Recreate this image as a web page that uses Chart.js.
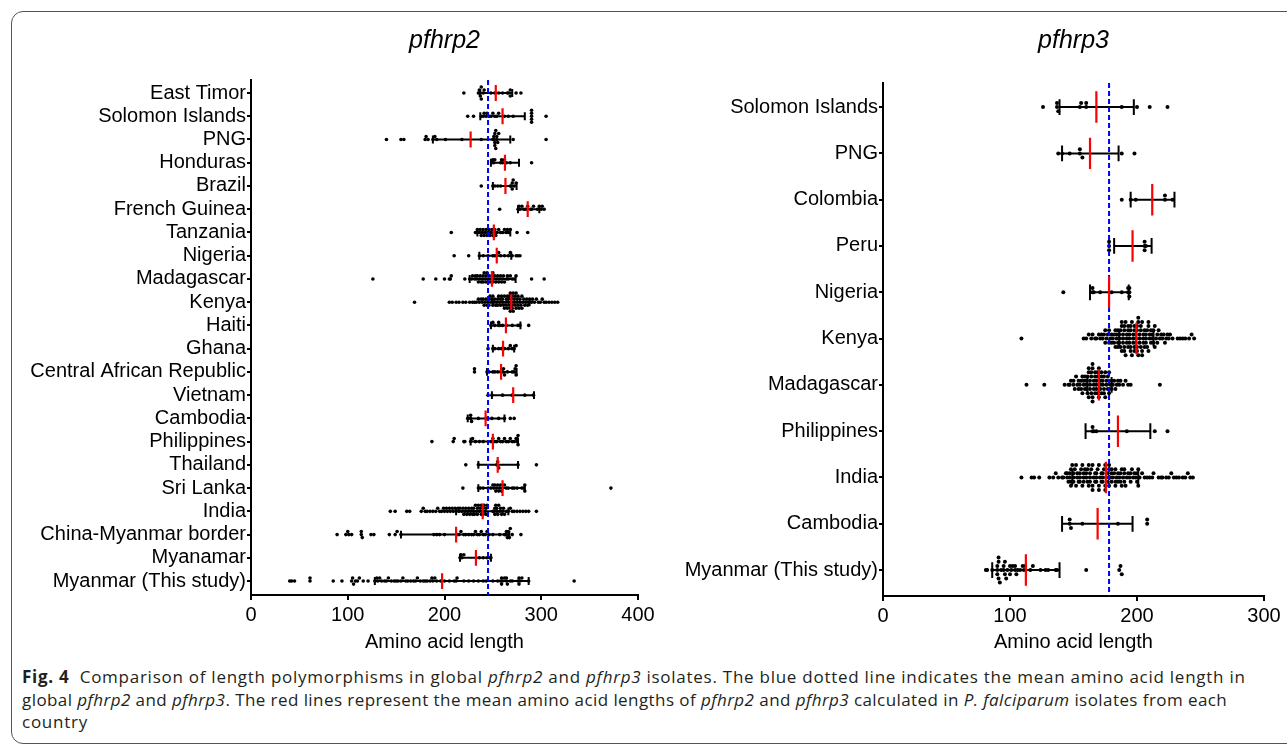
<!DOCTYPE html>
<html>
<head>
<meta charset="utf-8">
<title>pfhrp2 / pfhrp3 length polymorphisms</title>
<script src="https://cdn.jsdelivr.net/npm/chart.js@4.4.1/dist/chart.umd.min.js"></script>
<style>
  html, body { margin: 0; padding: 0; background: #fff; width: 1287px; height: 745px; overflow: hidden; }
  .frame { position: absolute; left: 11px; top: 11px; width: 1300px; height: 731px; border: 1.5px solid #555; border-radius: 12px; }
  canvas { position: absolute; top: 0; }
  #hrp2Chart { left: 0; }
  #hrp3Chart { left: 660px; }
  .caption { position: absolute; left: 22px; top: 666px; font-family: "Open Sans", "Noto Sans", sans-serif; font-size: 17px; letter-spacing: 0.74px; line-height: 22.5px; color: #231f20; white-space: nowrap; }
  .caption b { margin-right: 5px; }
  .caption .l2 { letter-spacing: 0.43px; }
</style>
</head>
<body>
<div class="frame"></div>
<canvas id="hrp2Chart" width="660" height="665"></canvas>
<canvas id="hrp3Chart" width="627" height="665"></canvas>
<div class="caption">
  <b>Fig. 4</b> Comparison of length polymorphisms in global <i>pfhrp2</i> and <i>pfhrp3</i> isolates. The blue dotted line indicates the mean amino acid length in<br>
  <span class="l2">global <i>pfhrp2</i> and <i>pfhrp3</i>. The red lines represent the mean amino acid lengths of <i>pfhrp2</i> and <i>pfhrp3</i> calculated in <i>P. falciparum</i> isolates from each</span><br>
  country
</div>
<script>
// ---------- pfhrp2 (left panel), rows top -> bottom ----------
const hrp2Countries = ["East Timor", "Solomon Islands", "PNG", "Honduras", "Brazil", "French Guinea",
  "Tanzania", "Nigeria", "Madagascar", "Kenya", "Haiti", "Ghana", "Central African Republic", "Vietnam",
  "Cambodia", "Philippines", "Thailand", "Sri Lanka", "India", "China-Myanmar border", "Myanamar",
  "Myanmar (This study)"];
const hrp2Means = [253, 260, 227, 262.5, 263, 286, 251, 254, 249, 269, 263.5, 260.5, 258.5, 271,
  242.5, 250, 255, 260, 239.5, 212, 232.5, 197.5];
const hrp2Low = [237, 237, 188, 248, 250, 276, 234, 236, 226, 250, 248, 250, 244, 249, 224, 227, 235, 235, 212, 155, 216, 128];
const hrp2High = [270, 283, 268, 277, 274.5, 298, 268, 269, 273.5, 288, 278.5, 272, 274.5, 292.5, 262, 276, 276, 283, 266, 267, 248, 287];
const hrp2GlobalMean = 245;
const hrp2Ticks = [0, 100, 200, 300, 400];
const hrp2Points = [
  [220, 235, 236, 236, 237, 238, 238, 240, 241, 248, 252, 256, 260, 265, 266, 268, 268, 274, 279],
  [224, 230, 238, 240, 241, 243, 244, 246, 248, 250, 252, 254, 256, 262, 266, 271, 290, 290, 290, 290, 290, 305],
  [140, 155, 158, 180, 181, 183, 188, 190, 192, 201, 218, 238, 250, 251, 251, 252, 252, 252, 253, 253, 254, 254, 255, 256, 271, 305],
  [249, 250, 251, 252, 258, 259, 260, 262, 264, 268, 290],
  [238, 250, 252, 255, 258, 268, 269, 270, 270, 271, 272, 274],
  [257, 276, 277, 278, 280, 282, 284, 286, 289, 290, 292, 296, 298, 300, 301, 303],
  [207, 232, 233, 234, 236, 237, 238, 239, 240, 241, 242, 243, 244, 245, 246, 247, 248, 249, 250, 251, 252,
   253, 254, 256, 258, 260, 262, 264, 265, 266, 268, 275, 286],
  [210, 225, 236, 240, 245, 250, 252, 254, 256, 258, 262, 266, 268, 270, 274, 276, 278],
  [126, 178, 191, 200, 205, 206, 207, 221, 226, 228, 229, 231, 232, 233, 234, 235, 236, 237, 238, 239, 240, 240,
   241, 242, 243, 243, 244, 245, 246, 247, 248, 249, 250, 250, 251, 252, 253, 254, 255, 256, 257, 258, 259, 260,
   261, 262, 264, 265, 266, 268, 270, 272, 274, 290, 303],
  [169, 205, 208, 212, 215, 219, 222, 226, 229, 231, 233, 235, 236, 238, 239, 240, 241, 242, 243, 244, 245, 246,
   246, 247, 248, 249, 250, 250, 251, 252, 253, 254, 255, 255, 256, 257, 258, 258, 259, 260, 260, 261, 262, 262,
   263, 264, 264, 265, 265, 266, 266, 267, 267, 268, 268, 268, 269, 269, 270, 270, 270, 271, 271, 272, 272, 273,
   273, 274, 274, 275, 275, 276, 276, 277, 278, 278, 279, 280, 280, 281, 282, 283, 284, 285, 286, 287, 288, 290,
   291, 293, 295, 297, 299, 301, 303, 305, 308, 311, 314, 317],
  [248, 250, 252, 256, 256, 257, 260, 264, 270, 276, 278, 287],
  [245, 250, 252, 256, 259, 262, 266, 268, 270, 272, 274],
  [231, 231, 244, 246, 250, 252, 255, 258, 260, 261, 262, 265, 270, 272, 273, 274, 274],
  [245, 249, 260, 270, 283, 292],
  [224, 227, 227, 228, 235, 243, 249, 256, 262, 268, 272],
  [187, 209, 210, 220, 221, 227, 229, 232, 236, 240, 248, 250, 252, 254, 256, 258, 260, 262, 264, 266, 268, 270,
   272, 274, 275, 275, 276, 276],
  [222, 235, 254, 255, 256, 276, 295],
  [219, 235, 237, 240, 245, 248, 250, 251, 252, 253, 254, 255, 256, 257, 258, 259, 260, 262, 264, 266, 270, 272,
   275, 280, 282, 283, 283, 372],
  [144, 149, 161, 164, 176, 178, 180, 182, 185, 188, 191, 193, 195, 197, 199, 200, 202, 203, 205, 206, 208, 209,
   211, 212, 214, 215, 216, 218, 219, 220, 221, 222, 223, 224, 225, 226, 227, 228, 229, 230, 230, 231, 232, 233,
   234, 234, 235, 236, 237, 238, 238, 239, 240, 240, 241, 242, 243, 243, 244, 250, 251, 252, 252, 253, 254, 254,
   255, 256, 257, 258, 259, 260, 261, 262, 264, 266, 268, 270, 272, 275, 278, 281, 284, 287, 295],
  [89, 98, 100, 101, 104, 114, 114, 115, 124, 127, 143, 149, 151, 155, 189, 192, 195, 200, 213, 215, 217, 220,
   222, 225, 228, 230, 232, 234, 236, 238, 240, 242, 244, 246, 250, 257, 262, 263, 264, 265, 266, 266, 267, 268, 270, 279],
  [216, 217, 218, 220, 236, 240, 244, 247, 248],
  [40, 42, 45, 61, 61, 85, 94, 104, 105, 106, 108, 110, 112, 116, 121, 128, 130, 131, 133, 135, 138, 140, 142, 145,
   148, 150, 152, 155, 157, 160, 162, 165, 168, 170, 172, 175, 178, 180, 182, 185, 187, 188, 190, 192, 196, 200,
   205, 210, 212, 213, 220, 225, 230, 235, 240, 243, 250, 255, 258, 259, 259, 260, 262, 264, 264, 265, 268, 270,
   276, 277, 277, 278, 280, 287, 334]
];

// ---------- pfhrp3 (right panel), rows top -> bottom ----------
const hrp3Countries = ["Solomon Islands", "PNG", "Colombia", "Peru", "Nigeria", "Kenya", "Madagascar",
  "Philippines", "India", "Cambodia", "Myanmar (This study)"];
const hrp3Means = [168, 163, 212, 196.5, 178, 199.5, 170, 185, 175.5, 169, 112.5];
const hrp3Low = [139, 141, 195, 182, 163, 186, 161, 159.5, 149, 141, 86];
const hrp3High = [197.5, 185.5, 229.5, 211.5, 193.5, 213, 180, 210.5, 201, 196.5, 139];
const hrp3GlobalMean = 178;
const hrp3Ticks = [0, 100, 200, 300];
const hrp3Points = [
  [126, 137, 137, 138, 155, 156, 160, 160, 188, 200, 210, 224],
  [138, 141, 147, 155, 155, 157, 188, 198],
  [188, 195, 199, 222, 222, 228],
  [178, 178, 178, 206, 206, 206, 207],
  [142, 165, 165, 166, 171, 180, 188, 193, 193, 194, 194, 194],
  [109, 158, 160, 162, 164, 165, 167, 168, 170, 171, 172, 173, 174, 175, 175, 176, 177, 178, 178, 179, 180, 180,
   181, 182, 182, 183, 183, 184, 184, 185, 185, 185, 186, 186, 186, 187, 187, 188, 188, 188, 189, 189, 189, 190,
   190, 190, 190, 191, 191, 192, 192, 192, 193, 193, 193, 194, 194, 194, 195, 195, 195, 195, 196, 196, 197, 197,
   197, 198, 198, 198, 198, 199, 199, 199, 200, 200, 200, 200, 201, 201, 201, 202, 202, 202, 203, 203, 203, 204,
   204, 204, 205, 205, 205, 206, 206, 207, 207, 207, 208, 208, 209, 209, 209, 210, 210, 211, 211, 212, 212, 213,
   213, 214, 214, 215, 216, 216, 217, 218, 219, 220, 221, 222, 223, 224, 225, 226, 228, 232, 234, 236, 238, 241, 243, 245],
  [113, 127, 143, 146, 147, 148, 150, 150, 151, 152, 153, 154, 154, 155, 156, 156, 157, 157, 158, 158, 159, 159,
   160, 160, 160, 161, 161, 162, 162, 162, 163, 163, 163, 164, 164, 164, 165, 165, 165, 165, 166, 166, 166, 167,
   167, 167, 168, 168, 168, 169, 169, 169, 170, 170, 171, 171, 171, 172, 172, 172, 173, 173, 174, 174, 174, 175,
   175, 176, 176, 177, 177, 178, 178, 179, 180, 180, 181, 182, 183, 184, 185, 186, 187, 189, 191, 193, 195, 218],
  [165, 165, 166, 168, 192, 214, 224],
  [109, 117, 119, 123, 131, 134, 136, 138, 141, 142, 144, 145, 145, 146, 147, 147, 148, 148, 148, 149, 150, 150,
   150, 151, 152, 152, 153, 153, 154, 155, 155, 155, 156, 157, 157, 158, 158, 158, 159, 160, 160, 161, 161, 162,
   162, 163, 163, 163, 164, 165, 165, 165, 166, 167, 167, 168, 168, 168, 169, 170, 170, 170, 171, 172, 172, 173,
   173, 173, 174, 175, 175, 175, 176, 177, 177, 178, 178, 178, 179, 180, 180, 180, 181, 182, 183, 183, 183, 184,
   185, 185, 186, 187, 187, 188, 188, 189, 190, 190, 190, 191, 192, 193, 194, 195, 195, 196, 197, 198, 199, 200,
   200, 201, 201, 202, 204, 206, 208, 210, 212, 213, 217, 219, 220, 223, 225, 227, 229, 231, 233, 236, 238, 240, 242, 244],
  [147, 147, 148, 157, 185, 208, 208],
  [81, 82, 86, 90, 90, 90, 91, 91, 91, 92, 93, 95, 95, 96, 96, 97, 98, 100, 100, 101, 102, 104, 104, 105, 106,
   108, 110, 111, 112, 116, 118, 124, 128, 130, 136, 137, 160, 186, 187, 188]
];

Chart.defaults.font.family = '"Liberation Sans", Arial, Helvetica, sans-serif';
Chart.defaults.color = "#000";

// stack points that fall in the same bin alternately above / below the row
function swarm(values, row, binSize, step) {
  const bins = {};
  return values.map((v) => {
    const b = Math.round(v / binSize);
    const n = bins[b] = (bins[b] || 0) + 1;
    const k = n - 1;
    const off = k === 0 ? 0 : (k % 2 ? -1 : 1) * Math.ceil(k / 2) * step;
    return { x: v, y: row + off };
  });
}

const gap = () => ({ x: null, y: null });

function makePlot(canvasId, p) {
  const dots = [];
  p.points.forEach((vals, i) => dots.push(...swarm(vals, i, p.binSize, p.step)));

  const bars = [];
  p.low.forEach((lo, i) => {
    const hi = p.high[i];
    bars.push({ x: lo, y: i }, { x: hi, y: i }, gap(),
      { x: lo, y: i - 0.17 }, { x: lo, y: i + 0.17 }, gap(),
      { x: hi, y: i - 0.17 }, { x: hi, y: i + 0.17 }, gap());
  });

  const means = [];
  p.means.forEach((m, i) => means.push({ x: m, y: i - 0.34 }, { x: m, y: i + 0.34 }, gap()));

  const lineSet = (data, color, width, dash) => ({
    data, showLine: true, spanGaps: false, pointRadius: 0, borderColor: color,
    borderWidth: width, borderDash: dash || [], fill: false, tension: 0
  });

  return new Chart(document.getElementById(canvasId), {
    type: "scatter",
    data: {
      datasets: [
        lineSet(means, "#ff0000", 2.2),
        lineSet([{ x: p.globalMean, y: p.yMin }, { x: p.globalMean, y: p.yMax }], "#0000ff", 2, [5, 3]),
        lineSet(bars, "#000", 2),
        { data: dots, pointRadius: p.dotRadius, pointBackgroundColor: "#000", pointBorderWidth: 0 }
      ]
    },
    options: {
      responsive: false,
      animation: false,
      events: [],
      layout: { padding: { top: 0, right: p.padRight, bottom: 0, left: 0 } },
      plugins: {
        legend: { display: false },
        tooltip: { enabled: false },
        title: {
          display: true, text: p.title, fullSize: false, color: "#000",
          font: { size: 25, style: "italic", weight: "normal" },
          padding: { top: 26, bottom: p.titleGap }
        }
      },
      scales: {
        x: {
          type: "linear", min: p.ticks[0], max: p.ticks[p.ticks.length - 1],
          afterBuildTicks: (s) => { s.ticks = p.ticks.map((v) => ({ value: v })); },
          afterFit: (s) => { s.height = p.xHeight; },
          ticks: { font: { size: 20 }, padding: 3, color: "#000" },
          grid: { drawOnChartArea: false, drawTicks: true, tickLength: 5, color: "#000", lineWidth: 2 },
          border: { color: "#000", width: 2 },
          title: { display: true, text: "Amino acid length", color: "#000", font: { size: 20 }, padding: { top: 0, bottom: 11 } }
        },
        y: {
          type: "linear", reverse: true, min: p.yMin, max: p.yMax,
          afterBuildTicks: (s) => { s.ticks = p.countries.map((_, i) => ({ value: i })); },
          afterFit: (s) => { s.width = p.yWidth; },
          ticks: { autoSkip: false, font: { size: 20 }, padding: 1, color: "#000", callback: (v) => p.countries[v] },
          grid: { drawOnChartArea: false, drawTicks: true, tickLength: 4, color: "#000", lineWidth: 2 },
          border: { color: "#000", width: 2 }
        }
      }
    }
  });
}

makePlot("hrp2Chart", {
  title: "pfhrp2", countries: hrp2Countries, points: hrp2Points, means: hrp2Means,
  low: hrp2Low, high: hrp2High, globalMean: hrp2GlobalMean, ticks: hrp2Ticks,
  yMin: -0.56, yMax: 21.6, binSize: 3, step: 0.13, dotRadius: 1.8,
  yWidth: 251, padRight: 22, xHeight: 70, titleGap: 24
});

makePlot("hrp3Chart", {
  title: "pfhrp3", countries: hrp3Countries, points: hrp3Points, means: hrp3Means,
  low: hrp3Low, high: hrp3High, globalMean: hrp3GlobalMean, ticks: hrp3Ticks,
  yMin: -0.52, yMax: 10.56, binSize: 2.6, step: 0.09, dotRadius: 2,
  yWidth: 223, padRight: 23, xHeight: 69, titleGap: 27
});
</script>
</body>
</html>
